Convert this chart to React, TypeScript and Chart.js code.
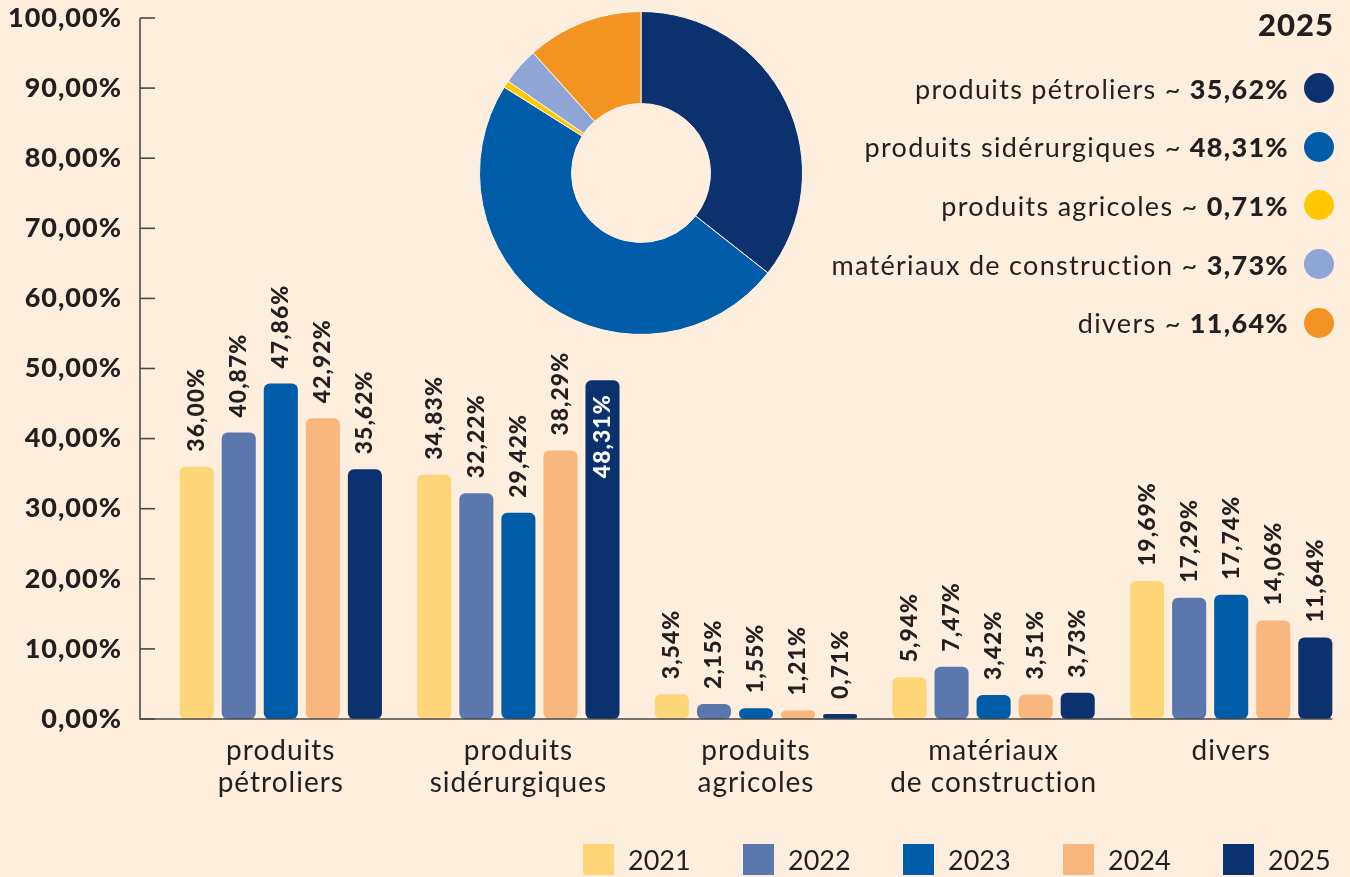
import React, { useEffect, useRef } from 'react';
import { Chart, registerables } from 'chart.js';

Chart.register(...registerables);

// ---------- data ----------
const categories: string[][] = [
  ['produits', 'pétroliers'],
  ['produits', 'sidérurgiques'],
  ['produits', 'agricoles'],
  ['matériaux', 'de construction'],
  ['divers'],
];
const years = ['2021', '2022', '2023', '2024', '2025'];
const values2021 = [36.0, 34.83, 3.54, 5.94, 19.69];
const values2022 = [40.87, 32.22, 2.15, 7.47, 17.29];
const values2023 = [47.86, 29.42, 1.55, 3.42, 17.74];
const values2024 = [42.92, 38.29, 1.21, 3.51, 14.06];
const values2025 = [35.62, 48.31, 0.71, 3.73, 11.64];
const yearValues = [values2021, values2022, values2023, values2024, values2025];
const yearColors = ['#FFD677', '#5B78AE', '#005CA9', '#F7B77E', '#0B326E'];

const yTickValues = [0, 10, 20, 30, 40, 50, 60, 70, 80, 90, 100];

const donutTitle = '2025';
const donutLabels = [
  'produits pétroliers',
  'produits sidérurgiques',
  'produits agricoles',
  'matériaux de construction',
  'divers',
];
const donutValues = [35.62, 48.31, 0.71, 3.73, 11.64];
const donutColors = ['#0B326E', '#005CA9', '#FFC800', '#8FA5D6', '#F39321'];

// label drawn inside the bar (dataset index, category index)
const insideLabels = [[4, 1]];

// ---------- style ----------
const BG = '#FEEEDE';
const INK = '#231F20';
const AXIS = '#4A4A4A';
const FONT = 'Lato, "Open Sans", sans-serif';
const HEAVY = 900;

const fmt = (v: number) => v.toFixed(2).replace('.', ',') + '%';

const spacingPlugin = {
  id: 'letterSpacing',
  beforeDraw(chart: any) {
    try {
      (chart.ctx as any).letterSpacing = '1px';
    } catch (e) {}
  },
};

const axisPlugin = {
  id: 'customAxis',
  afterDatasetsDraw(chart: any) {
    const { ctx, chartArea, scales } = chart;
    const y = scales.y;
    const ax = chartArea.left - 22;
    ctx.save();
    ctx.strokeStyle = AXIS;
    ctx.lineWidth = 1.6;
    ctx.beginPath();
    ctx.moveTo(ax, y.getPixelForValue(100));
    ctx.lineTo(ax, y.getPixelForValue(0));
    const lastMeta = chart.getDatasetMeta(chart.data.datasets.length - 1);
    const lastBar = lastMeta.data[lastMeta.data.length - 1];
    const rightEnd = lastBar.x + lastBar.width / 2;
    ctx.lineTo(rightEnd, y.getPixelForValue(0));
    ctx.stroke();
    yTickValues.forEach((v) => {
      const py = y.getPixelForValue(v);
      ctx.beginPath();
      ctx.moveTo(ax, py);
      ctx.lineTo(ax + 15, py);
      ctx.stroke();
    });
    ctx.restore();
  },
};

const labelPlugin = {
  id: 'barLabels',
  afterDatasetsDraw(chart: any) {
    const { ctx } = chart;
    ctx.save();
    ctx.font = `${HEAVY} 23px ${FONT}`;
    try {
      (ctx as any).letterSpacing = '1px';
    } catch (e) {}
    ctx.textBaseline = 'middle';
    chart.data.datasets.forEach((ds: any, di: number) => {
      const meta = chart.getDatasetMeta(di);
      meta.data.forEach((bar: any, i: number) => {
        const text = fmt(ds.data[i]);
        const inside = insideLabels.some(([d, c]) => d === di && c === i);
        ctx.save();
        if (inside) {
          ctx.translate(bar.x, bar.y + 14);
          ctx.rotate(-Math.PI / 2);
          ctx.textAlign = 'right';
          ctx.fillStyle = '#FFFFFF';
        } else {
          ctx.translate(bar.x, bar.y - 15);
          ctx.rotate(-Math.PI / 2);
          ctx.textAlign = 'left';
          ctx.fillStyle = INK;
        }
        ctx.fillText(text, 0, 0);
        ctx.restore();
      });
    });
    ctx.restore();
  },
};

export default function App() {
  const barRef = useRef<HTMLCanvasElement>(null);
  const donutRef = useRef<HTMLCanvasElement>(null);

  useEffect(() => {
    document.body.style.margin = '0';
    document.body.style.background = BG;
    const bar = new Chart(barRef.current!, {
      type: 'bar',
      data: {
        labels: categories,
        datasets: years.map((yr, i) => ({
          label: yr,
          data: yearValues[i],
          backgroundColor: yearColors[i],
          borderRadius: 6,
          borderSkipped: false,
          categoryPercentage: 0.885,
          barPercentage: 0.81,
        })),
      },
      options: {
        animation: false,
        responsive: false,
        devicePixelRatio: 1,
        layout: { padding: { top: 18, right: 0, left: 0, bottom: 0 } },
        plugins: { legend: { display: false }, tooltip: { enabled: false } },
        scales: {
          y: {
            min: 0,
            max: 100,
            ticks: {
              stepSize: 10,
              padding: 40,
              color: INK,
              font: { family: FONT, size: 27, weight: HEAVY },
              callback: (v: any) => fmt(Number(v)),
            },
            grid: { display: false, drawTicks: false },
            border: { display: false },
            afterFit: (s: any) => {
              s.width = 162;
              s.paddingTop = 0;
              s.paddingBottom = 0;
            },
          },
          x: {
            ticks: {
              padding: 16,
              color: INK,
              font: { family: FONT, size: 28, lineHeight: 1.14 },
              maxRotation: 0,
              autoSkip: false,
            },
            grid: { display: false, drawTicks: false },
            border: { display: false },
            afterFit: (s: any) => {
              s.height = 158;
              s.paddingLeft = 0;
              s.paddingRight = 0;
            },
          },
        },
      } as any,
      plugins: [spacingPlugin, axisPlugin, labelPlugin],
    });

    const donut = new Chart(donutRef.current!, {
      type: 'doughnut',
      data: {
        labels: donutLabels,
        datasets: [
          {
            data: donutValues,
            backgroundColor: donutColors,
            borderColor: '#FFF4E8',
            borderWidth: 1,
          },
        ],
      },
      options: {
        animation: false,
        responsive: false,
        devicePixelRatio: 1,
        cutout: '43%',
        layout: { padding: 0 },
        plugins: { legend: { display: false }, tooltip: { enabled: false } },
      } as any,
    });

    return () => {
      bar.destroy();
      donut.destroy();
    };
  }, []);

  return (
    <div
      style={{
        position: 'fixed',
        left: 0,
        top: 0,
        width: 1350,
        height: 877,
        background: BG,
        fontFamily: FONT,
        color: INK,
        overflow: 'hidden',
      }}
    >
      <canvas
        ref={barRef}
        width={1350}
        height={877}
        style={{ position: 'absolute', left: 0, top: 0, width: 1350, height: 877 }}
      />
      <canvas
        ref={donutRef}
        width={324}
        height={324}
        style={{ position: 'absolute', left: 479, top: 11, width: 324, height: 324 }}
      />
      {/* donut legend */}
      <div
        style={{
          position: 'absolute',
          right: 16,
          top: 4,
          fontWeight: HEAVY,
          fontSize: 31,
          lineHeight: '40px',
          letterSpacing: '1px',
        }}
      >
        {donutTitle}
      </div>
      {donutLabels.map((lab, i) => (
        <div
          key={lab}
          style={{
            position: 'absolute',
            right: 16,
            top: 73 + i * 58.7,
            height: 30,
            display: 'flex',
            alignItems: 'center',
            whiteSpace: 'nowrap',
            fontSize: 27,
            letterSpacing: '1.3px',
            fontVariantLigatures: 'none',
          }}
        >
          <span>
            {lab} ~ <span style={{ fontWeight: HEAVY }}>{fmt(donutValues[i])}</span>
          </span>
          <span
            style={{
              display: 'inline-block',
              width: 30,
              height: 30,
              borderRadius: 15,
              background: donutColors[i],
              marginLeft: 15,
            }}
          />
        </div>
      ))}
      {/* year legend */}
      <div
        style={{
          position: 'absolute',
          left: 583,
          top: 844,
          display: 'flex',
          alignItems: 'center',
          height: 31,
        }}
      >
        {years.map((yr, i) => (
          <div
            key={yr}
            style={{ width: 160, display: 'flex', alignItems: 'center', fontSize: 27 }}
          >
            <span
              style={{
                display: 'inline-block',
                width: 31,
                height: 31,
                background: yearColors[i],
                marginRight: 14,
              }}
            />
            <span>{yr}</span>
          </div>
        ))}
      </div>
    </div>
  );
}
